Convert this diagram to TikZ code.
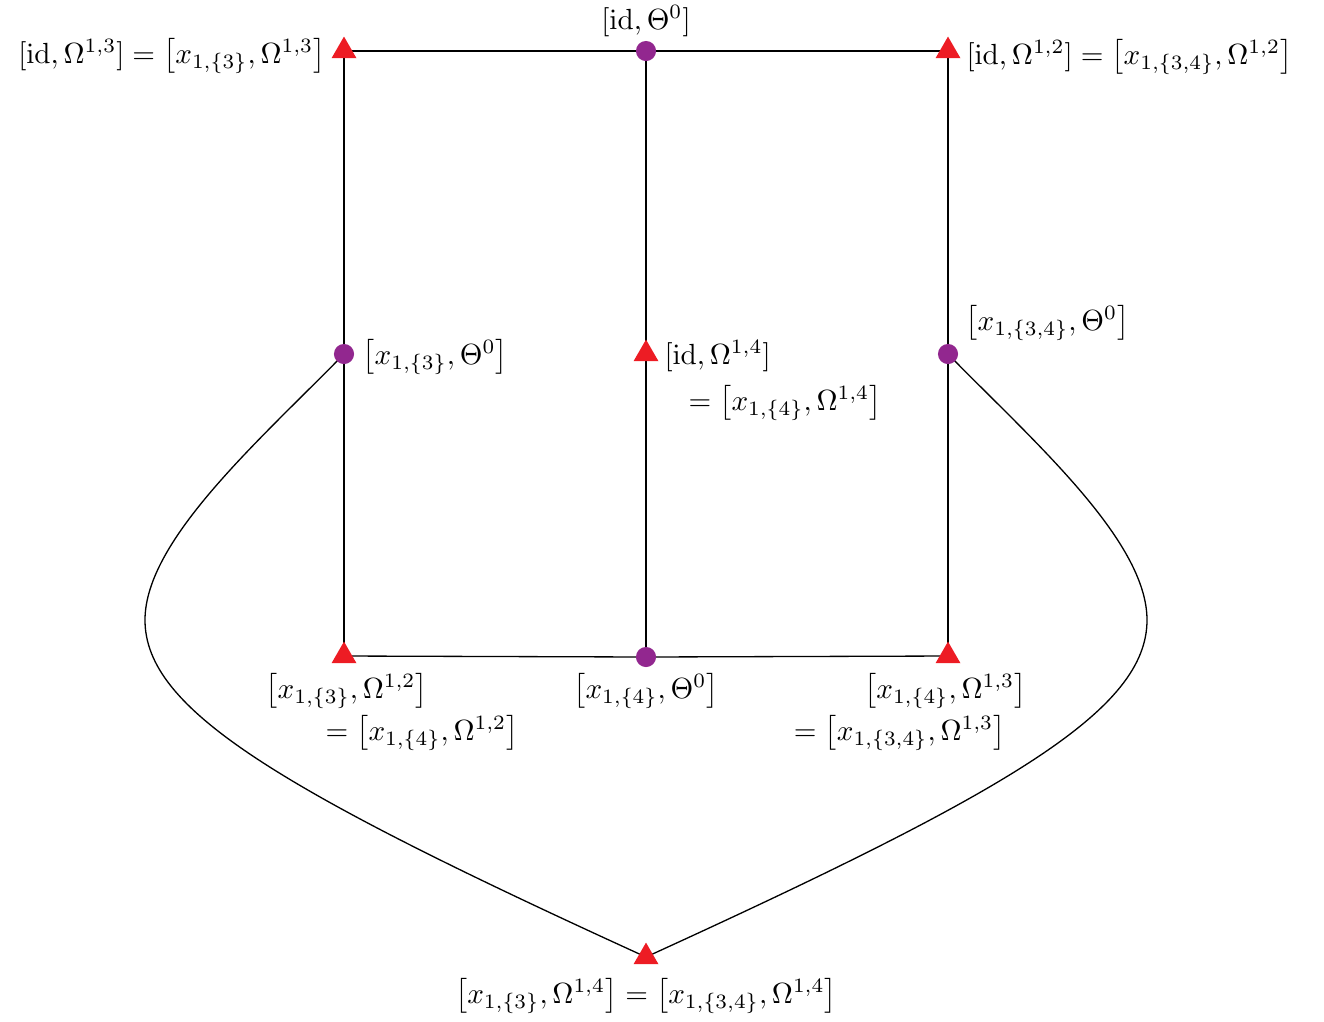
\documentclass[tikz,border=0pt]{standalone}
\usetikzlibrary{shapes.geometric,backgrounds}
\definecolor{tred}{RGB}{237,28,36}
\definecolor{cpurple}{RGB}{146,39,143}
\begin{document}
\begin{tikzpicture}[x=0.343pt,y=-0.343pt,
  tri/.style={regular polygon,regular polygon sides=3,fill=tred,inner sep=0pt,minimum size=9.9pt},
  dot/.style={circle,fill=cpurple,inner sep=0pt,minimum size=6.9pt},
  lbl/.style={inner sep=0pt},
  edge/.style={line width=0.45pt,black}]
\useasboundingbox (0,0) rectangle (1324,1021);
% vertices
\node[tri] (TL) at (344,51) {};
\node[dot] (TM) at (646,51) {};
\node[tri] (TR) at (948,51) {};
\node[dot] (ML) at (344,354) {};
\node[tri] (MM) at (646,354) {};
\node[dot] (MR) at (948,354) {};
\node[tri] (BL) at (344,656) {};
\node[dot] (BM) at (646,657) {};
\node[tri] (BR) at (948,656) {};
\node[tri] (B) at (646,957) {};
% edges
\begin{scope}[on background layer]
\draw[edge] (TL.center) -- (TM.center) -- (TR.center);
\draw[edge] (BL.center) -- (BM.center) -- (BR.center);
\draw[edge] (TL.center) -- (ML.center) -- (BL.center);
\draw[edge] (TM.center) -- (MM.center) -- (BM.center);
\draw[edge] (TR.center) -- (MR.center) -- (BR.center);
\draw[edge] (ML.center) .. controls (260,440) and (145,540) .. (145,620)
  .. controls (145,710) and (280,790) .. (B.center);
\draw[edge] (MR.center) .. controls (1032,440) and (1147,540) .. (1147,620)
  .. controls (1147,710) and (1012,790) .. (B.center);
\end{scope}
% labels
\node[lbl,anchor=base east] (lTL) at (326,63) {$[\mathrm{id},\Omega^{1,3}] = \bigl[x_{1,\{3\}},\Omega^{1,3}\bigr]$};
\node[lbl,anchor=base] (lTM) at (646,29) {$[\mathrm{id},\Theta^{0}]$};
\node[lbl,anchor=base west] (lTR) at (966,64) {$[\mathrm{id},\Omega^{1,2}] = \bigl[x_{1,\{3,4\}},\Omega^{1,2}\bigr]$};
\node[lbl,anchor=base west] (lML) at (362,364) {$\bigl[x_{1,\{3\}},\Theta^{0}\bigr]$};
\node[lbl,anchor=base west] (lMMa) at (664,364) {$[\mathrm{id},\Omega^{1,4}]$};
\node[lbl,anchor=base west] (lMMb) at (688,410) {$=\bigl[x_{1,\{4\}},\Omega^{1,4}\bigr]$};
\node[lbl,anchor=base west] (lMR) at (965,330) {$\bigl[x_{1,\{3,4\}},\Theta^{0}\bigr]$};
\node[lbl,anchor=base west] (lBLa) at (265,698) {$\bigl[x_{1,\{3\}},\Omega^{1,2}\bigr]$};
\node[lbl,anchor=base west] (lBLb) at (325,740) {$=\bigl[x_{1,\{4\}},\Omega^{1,2}\bigr]$};
\node[lbl,anchor=base] (lBM) at (646,698) {$\bigl[x_{1,\{4\}},\Theta^{0}\bigr]$};
\node[lbl,anchor=base east] (lBRa) at (1027,698) {$\bigl[x_{1,\{4\}},\Omega^{1,3}\bigr]$};
\node[lbl,anchor=base east] (lBRb) at (1006,740) {$=\bigl[x_{1,\{3,4\}},\Omega^{1,3}\bigr]$};
\node[lbl,anchor=base] (lB) at (646,1003) {$\bigl[x_{1,\{3\}},\Omega^{1,4}\bigr] = \bigl[x_{1,\{3,4\}},\Omega^{1,4}\bigr]$};
\end{tikzpicture}
\end{document}
